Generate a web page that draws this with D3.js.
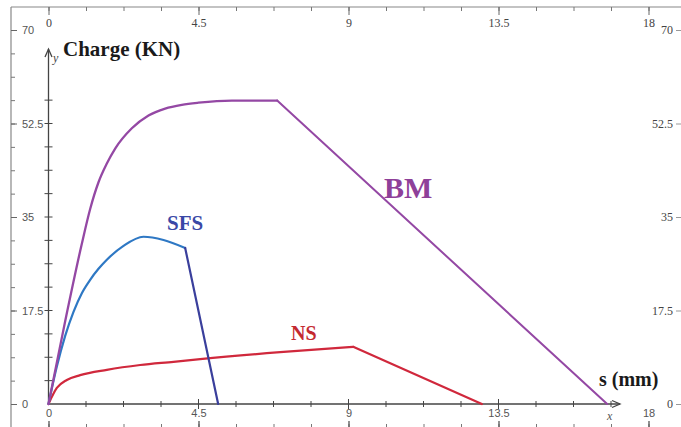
<!DOCTYPE html>
<html>
<head>
<meta charset="utf-8">
<script src="https://cdn.jsdelivr.net/npm/d3@7"></script>
<style>
  html, body { margin: 0; padding: 0; background: #fff; }
  svg { display: block; }
</style>
</head>
<body>
<div id="chart"></div>
<script>
// tick labels
const xTicks = [0, 4.5, 9, 13.5, 18];
const yTicks = [0, 17.5, 35, 52.5, 70];

// curves (s in mm, charge in KN)
const bmRise = [[0, 0], [0.5, 15.5], [1.0, 30], [1.25, 36.5], [1.5, 41.5], [1.75, 45], [2.0, 47.8], [2.5, 51.6], [3.0, 54], [3.5, 55.3], [4.0, 56], [4.5, 56.4], [5.5, 56.8], [6.86, 56.8]];
const bmFall = [[6.86, 56.8], [16.76, 0]];
const sfsRise = [[0, 0], [0.25, 7], [0.5, 12.75], [0.75, 17.25], [1.0, 20.75], [1.25, 23.25], [1.5, 25.3], [1.75, 27], [2.25, 29.6], [2.85, 31.3], [3.45, 30.7], [4.1, 29.2]];
const sfsFall = [[4.1, 29.2], [5.09, 0]];
const nsRise = [[0, 0], [0.25, 3], [0.55, 4.5], [0.95, 5.4], [1.75, 6.4], [2.75, 7.3], [3.75, 7.9], [4.55, 8.4], [6.95, 9.7], [9.14, 10.7]];
const nsFall = [[9.14, 10.7], [13.0, 0]];

const names = ["BM", "SFS", "NS"];

const width = 681, height = 427;

const svg = d3.select("#chart").append("svg")
  .attr("width", width)
  .attr("height", height);

const x = d3.scaleLinear().domain([0, 18]).range([48.5, 648.5]);
const y = d3.scaleLinear().domain([0, 70]).range([404, 30]);

const xMinor = d3.range(0, 18.01, 1.125);
const yMinor = d3.range(0, 70.01, 4.375);

function tidy(g) {
  g.select(".domain").remove();
}

// ---- outer frame ----
svg.append("line").attr("x1", 11).attr("x2", 11).attr("y1", 7).attr("y2", height)
  .attr("stroke", "#888").attr("stroke-width", 1.2);
svg.append("line").attr("x1", 11).attr("x2", width).attr("y1", 7).attr("y2", 7)
  .attr("stroke", "#888").attr("stroke-width", 1.2);

// left frame
svg.append("g").attr("transform", "translate(11,0)")
  .call(d3.axisRight(y).tickValues(yMinor).tickSize(4).tickFormat(""))
  .call(tidy).selectAll("line").attr("stroke", "#777");
const leftAx = svg.append("g").attr("transform", "translate(11,0)")
  .call(d3.axisRight(y).tickValues(yTicks).tickSize(6).tickPadding(5).tickFormat(d => d))
  .call(tidy);
leftAx.selectAll("line").attr("stroke", "#666");
leftAx.selectAll("text").attr("font-family", "Liberation Sans, Arial, sans-serif")
  .attr("font-size", 11).attr("fill", "#555");

// right frame
const rightAx = svg.append("g").attr("transform", `translate(${width},0)`)
  .call(d3.axisLeft(y).tickValues(yTicks).tickSize(5).tickPadding(3).tickFormat(d => d))
  .call(tidy);
rightAx.selectAll("line").attr("stroke", "#999");
rightAx.selectAll("text").attr("font-family", "Liberation Serif, Times New Roman, serif")
  .attr("font-size", 12).attr("fill", "#444");

// top frame
svg.append("g").attr("transform", "translate(0,7)")
  .call(d3.axisBottom(x).tickValues(xMinor).tickSize(4).tickFormat(""))
  .call(tidy).selectAll("line").attr("stroke", "#777");
const topAx = svg.append("g").attr("transform", "translate(0,7)")
  .call(d3.axisBottom(x).tickValues(xTicks).tickSize(8).tickPadding(3).tickFormat(d => d))
  .call(tidy);
topAx.selectAll("line").attr("stroke", "#666");
topAx.selectAll("text").attr("font-family", "Liberation Serif, Times New Roman, serif")
  .attr("font-size", 12).attr("fill", "#444");

// bottom frame ticks
svg.append("g").attr("transform", `translate(0,${height})`)
  .call(d3.axisTop(x).tickValues(xMinor).tickSize(3).tickFormat(""))
  .call(tidy).selectAll("line").attr("stroke", "#777");
svg.append("g").attr("transform", `translate(0,${height})`)
  .call(d3.axisTop(x).tickValues(xTicks).tickSize(6).tickFormat(""))
  .call(tidy).selectAll("line").attr("stroke", "#555").attr("stroke-width", 1.3);

// ---- inner axes ----
const axColor = "#444";
svg.append("line").attr("x1", x(0)).attr("x2", 620).attr("y1", y(0)).attr("y2", y(0))
  .attr("stroke", axColor).attr("stroke-width", 1.3);
svg.append("line").attr("x1", x(0)).attr("x2", x(0)).attr("y1", y(0)).attr("y2", 49)
  .attr("stroke", axColor).attr("stroke-width", 1.3);
// arrow heads
svg.append("path").attr("d", `M${x(0) - 3.5},57 L${x(0)},49 L${x(0) + 3.5},57`)
  .attr("fill", "none").attr("stroke", axColor).attr("stroke-width", 1.3);
svg.append("path").attr("d", `M612,${y(0) - 3.5} L620,${y(0)} L612,${y(0) + 3.5}`)
  .attr("fill", "none").attr("stroke", axColor).attr("stroke-width", 1.3);

// crossing ticks on inner y axis
svg.append("g").selectAll("line")
  .data(yMinor.filter(d => d > 0 && d < 60))
  .join("line")
  .attr("x1", x(0) - 4).attr("x2", x(0) + 4)
  .attr("y1", d => y(d)).attr("y2", d => y(d))
  .attr("stroke", axColor);

// crossing ticks on inner x axis
svg.append("g").selectAll("line")
  .data(xMinor.filter(d => d > 0 && d < 17))
  .join("line")
  .attr("x1", d => x(d)).attr("x2", d => x(d))
  .attr("y1", d => y(0) - (xTicks.includes(d) ? 5 : 3))
  .attr("y2", d => y(0) + (xTicks.includes(d) ? 5 : 3))
  .attr("stroke", axColor);

// inner x labels
const xLab = svg.append("g").attr("transform", `translate(0,${y(0)})`)
  .call(d3.axisBottom(x).tickValues(xTicks).tickSize(0).tickPadding(5).tickFormat(d => d))
  .call(tidy);
xLab.selectAll("text").attr("font-family", "Liberation Sans, Arial, sans-serif")
  .attr("font-size", 11).attr("fill", "#555");

// axis letters
svg.append("text").attr("x", 53).attr("y", 62).text("y")
  .attr("font-family", "Liberation Serif, serif").attr("font-style", "italic")
  .attr("font-size", 12).attr("fill", "#444");
svg.append("text").attr("x", 607).attr("y", 420).text("x")
  .attr("font-family", "Liberation Serif, serif").attr("font-style", "italic")
  .attr("font-size", 12).attr("fill", "#555");

// axis titles
svg.append("text").attr("x", 63).attr("y", 56).text("Charge (KN)")
  .attr("font-family", "Liberation Serif, Times New Roman, serif").attr("font-weight", "bold")
  .attr("font-size", 21).attr("fill", "#1a1a1a");
svg.append("text").attr("x", 599).attr("y", 386).text("s (mm)")
  .attr("font-family", "Liberation Serif, Times New Roman, serif").attr("font-weight", "bold")
  .attr("font-size", 20).attr("fill", "#1a1a1a");

// ---- curves ----
const curve = d3.line().x(d => x(d[0])).y(d => y(d[1])).curve(d3.curveMonotoneX);
const straight = d3.line().x(d => x(d[0])).y(d => y(d[1]));

function draw(data, gen, color, w) {
  svg.append("path").datum(data)
    .attr("d", gen)
    .attr("fill", "none")
    .attr("stroke", color)
    .attr("stroke-width", w)
    .attr("stroke-linejoin", "round")
    .attr("stroke-linecap", "round");
}

draw(nsRise, curve, "#d0283c", 2.2);
draw(nsFall, straight, "#d0283c", 2.2);
draw(sfsRise, curve, "#2e78c4", 2.2);
draw(sfsFall, straight, "#3a3f9c", 2.2);
draw(bmRise, curve, "#9448a4", 2.3);
draw(bmFall, straight, "#9448a4", 2);

// curve labels
const labelFont = "Liberation Serif, Times New Roman, serif";
svg.append("text").attr("x", 384).attr("y", 198).text(names[0])
  .attr("font-family", labelFont).attr("font-weight", "bold")
  .attr("font-size", 30).attr("fill", "#8e4099");
svg.append("text").attr("x", 167).attr("y", 230).text(names[1])
  .attr("font-family", labelFont).attr("font-weight", "bold")
  .attr("font-size", 21).attr("fill", "#3a48a6");
svg.append("text").attr("x", 291).attr("y", 340).text(names[2])
  .attr("font-family", labelFont).attr("font-weight", "bold")
  .attr("font-size", 20).attr("fill", "#c42a30");
</script>
</body>
</html>
